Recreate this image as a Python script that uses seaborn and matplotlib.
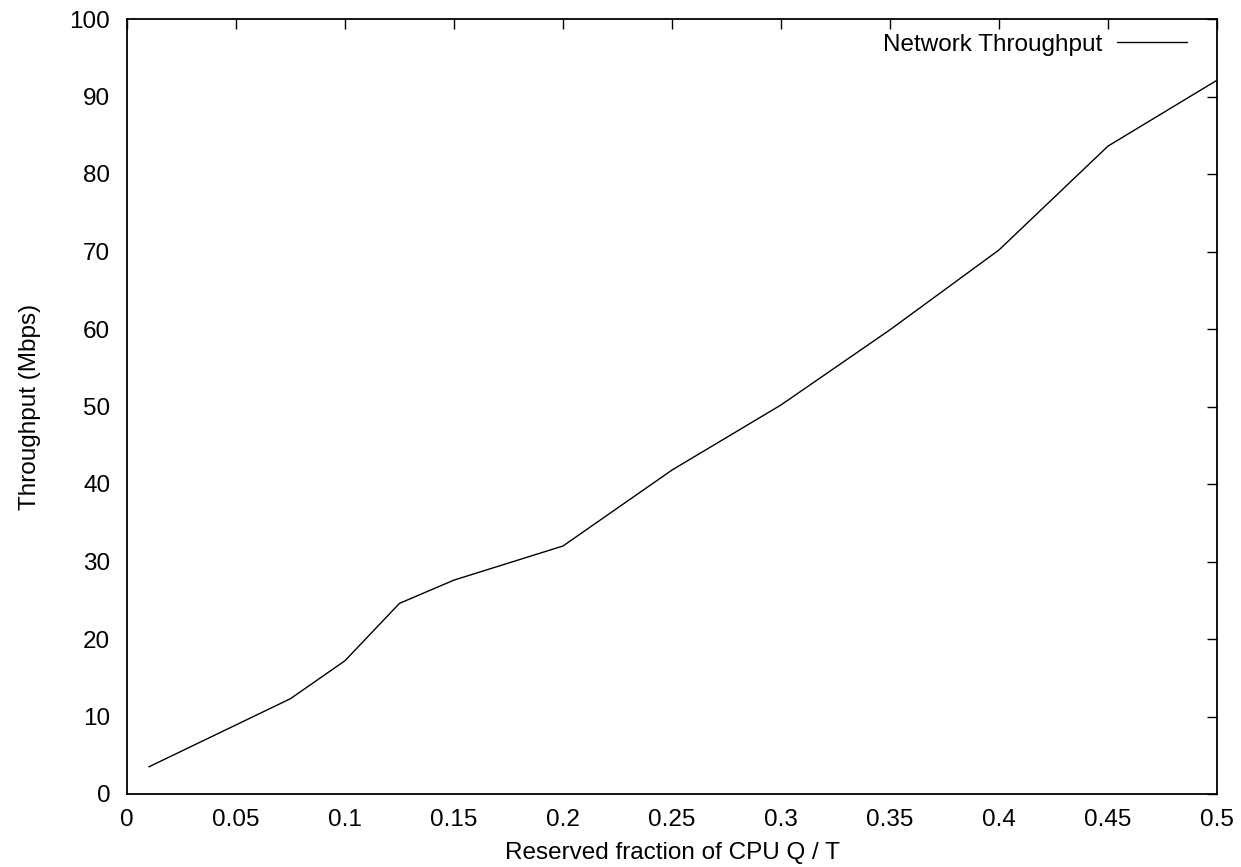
import matplotlib
matplotlib.use("Agg")
import matplotlib.pyplot as plt
import seaborn as sns
import pandas as pd

fraction = [0.01, 0.075, 0.1, 0.125, 0.15, 0.2, 0.25, 0.3, 0.35, 0.4, 0.45, 0.5]
throughput = [3.5, 12.3, 17.2, 24.6, 27.6, 32.0, 41.8, 50.2, 59.9, 70.2, 83.6, 92.1]
series_name = "Network Throughput"
xticks = [0, 0.05, 0.1, 0.15, 0.2, 0.25, 0.3, 0.35, 0.4, 0.45, 0.5]
xticklabels = ["0", "0.05", "0.1", "0.15", "0.2", "0.25", "0.3", "0.35", "0.4", "0.45", "0.5"]
yticks = list(range(0, 101, 10))

sns.set_style("white")
plt.rcParams['font.family'] = ['Liberation Sans', 'DejaVu Sans']
plt.rcParams['text.color'] = 'black'
plt.rcParams['axes.labelcolor'] = 'black'

FS = 17.5

df = pd.DataFrame({"x": fraction, "y": throughput, "s": series_name})

fig = plt.figure(figsize=(12.41, 8.67), dpi=100)
ax = fig.add_axes([127/1241, 1 - 794/867, (1217-127)/1241, (794-19)/867])
sns.lineplot(data=df, x="x", y="y", hue="s", palette=["black"], linewidth=1, ax=ax)

ax.set_xlim(0, 0.5)
ax.set_ylim(0, 100)
ax.set_xticks(xticks)
ax.set_xticklabels(xticklabels)
ax.set_yticks(yticks)
ax.tick_params(direction="in", length=7, width=1, top=True, right=True,
               labelsize=FS, colors="black")
ax.tick_params(axis="x", pad=11)
ax.tick_params(axis="y", pad=12)
for sp in ax.spines.values():
    sp.set_visible(True)
    sp.set_color("black")
    sp.set_linewidth(1.3)

ax.set_xlabel("Reserved fraction of CPU Q / T", fontsize=FS, labelpad=7.5, color="black")
ax.set_ylabel("Throughput (Mbps)", fontsize=FS, labelpad=20.5, color="black")

leg = ax.legend(loc="upper right", bbox_to_anchor=(0.981, 0.9935), frameon=False,
                markerfirst=False, fontsize=FS, handlelength=2.85,
                borderaxespad=0, handletextpad=0.6)
for t in leg.get_texts():
    t.set_color("black")

fig.savefig("out.png", dpi=100)
